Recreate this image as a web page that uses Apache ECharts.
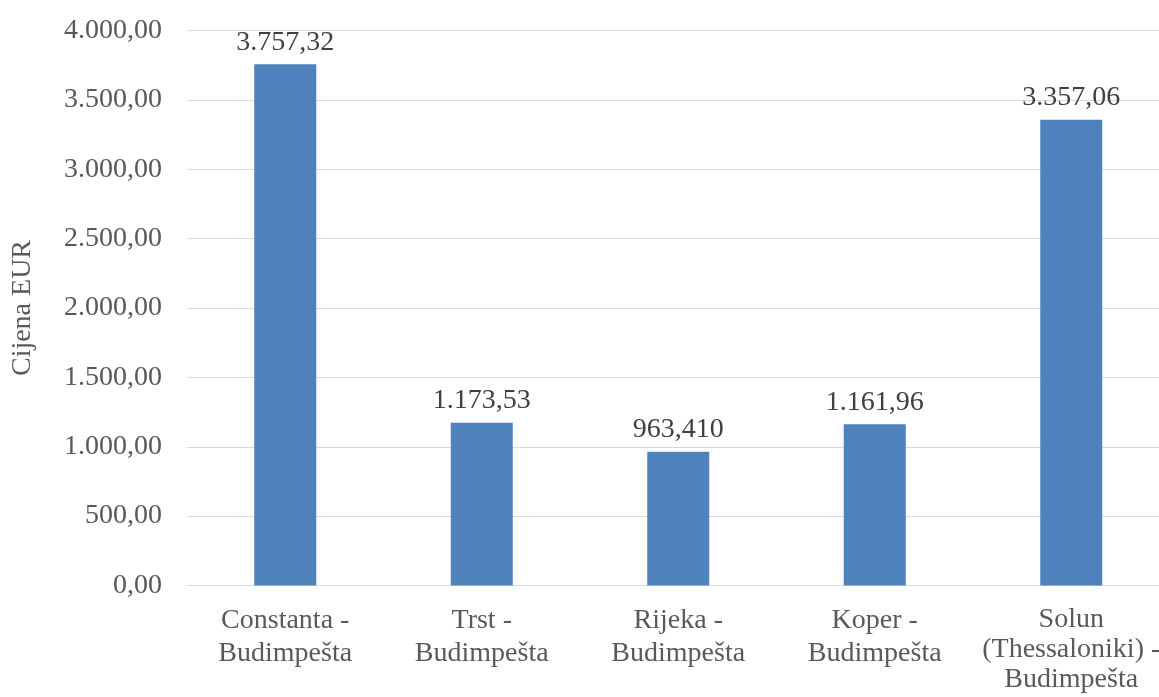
<!DOCTYPE html>
<html>
<head>
<meta charset="utf-8">
<script src="https://cdn.jsdelivr.net/npm/echarts@6/dist/echarts.min.js"></script>
<style>
html,body{margin:0;padding:0;background:#fff;}
#chart{width:1159px;height:697px;}
</style>
</head>
<body>
<div id="chart"></div>
<script>
var categories = [
  "Constanta -\nBudimpešta",
  "Trst -\nBudimpešta",
  "Rijeka -\nBudimpešta",
  "Koper -\nBudimpešta",
  "Solun\n(Thessaloniki) -\nBudimpešta"
];
var prices = [3757.32, 1173.53, 963.41, 1161.96, 3357.06];
var priceLabels = ["3.757,32", "1.173,53", "963,410", "1.161,96", "3.357,06"];
var yTicks = ["0,00", "500,00", "1.000,00", "1.500,00", "2.000,00", "2.500,00", "3.000,00", "3.500,00", "4.000,00"];

var FONT = '"Liberation Serif", "Times New Roman", serif';
var catData = categories.map(function (c) {
  var lines = c.split('\n').length;
  return lines > 2 ? { value: c, textStyle: { lineHeight: 30 } } : c;
});
var chart = echarts.init(document.getElementById('chart'));
chart.setOption({
  animation: false,
  backgroundColor: '#ffffff',
  grid: { left: 187, right: -10.5, top: 30.5, bottom: 111.5, containLabel: false, outerBoundsMode: 'none' },
  xAxis: {
    type: 'category',
    data: catData,
    axisLine: { lineStyle: { color: '#D9D9D9', width: 1 } },
    axisTick: { show: false },
    axisLabel: {
      color: '#595959', fontFamily: FONT, fontSize: 28, lineHeight: 33,
      margin: 19, interval: 0
    }
  },
  yAxis: {
    type: 'value',
    min: 0, max: 4000, interval: 500,
    name: 'Cijena EUR',
    nameLocation: 'middle',
    nameGap: 150,
    nameRotate: 90,
    nameTextStyle: { color: '#595959', fontFamily: FONT, fontSize: 28 },
    axisLine: { show: false },
    axisTick: { show: false },
    splitLine: { lineStyle: { color: '#D9D9D9', width: 1 } },
    axisLabel: {
      color: '#595959', fontFamily: FONT, fontSize: 28, margin: 25,
      formatter: function (v) { return yTicks[Math.round(v / 500)]; }
    }
  },
  series: [{
    type: 'bar',
    data: prices,
    barWidth: 62,
    itemStyle: { color: '#4F81BD' },
    label: {
      show: true, position: 'top', distance: 8,
      color: '#404040', fontFamily: FONT, fontSize: 28,
      formatter: function (p) { return priceLabels[p.dataIndex]; }
    }
  }]
});
</script>
</body>
</html>
